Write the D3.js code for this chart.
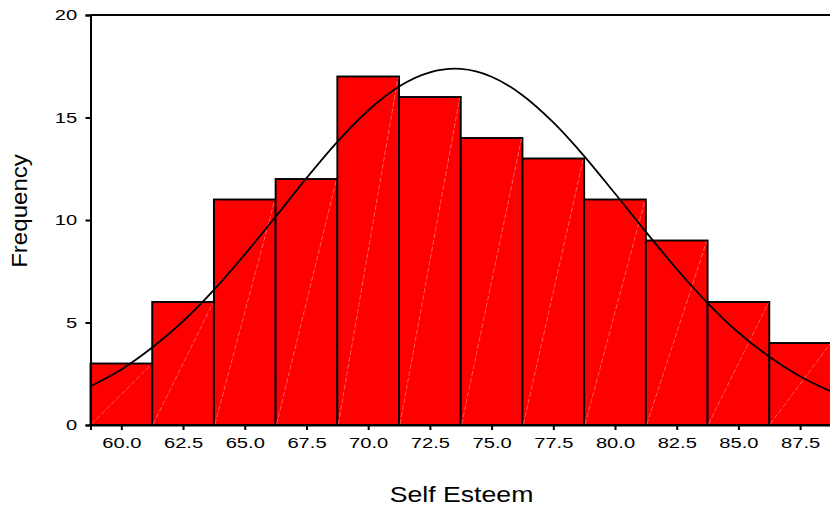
<!DOCTYPE html>
<html>
<head>
<meta charset="utf-8">
<script src="https://cdn.jsdelivr.net/npm/d3@7"></script>
<style>
    body { margin: 0; background: #fff; }
    svg { display: block; font-family: "Liberation Sans", Arial, sans-serif; }
</style>
</head>
<body>
<svg width="830" height="508"></svg>
<script>
// histogram bins (midpoints) and counts
const binMids = [60.0, 62.5, 65.0, 67.5, 70.0, 72.5, 75.0, 77.5, 80.0, 82.5, 85.0, 87.5];
const counts = [3, 6, 11, 12, 17, 16, 14, 13, 11, 9, 6, 4];
const binWidth = 2.5;

// fitted normal curve
const curveX = [58.75, 60.0, 61.25, 62.5, 63.75, 65.0, 66.25, 67.5, 68.75, 70.0, 71.25, 72.5, 73.75,
    75.0, 76.25, 77.5, 78.75, 80.0, 81.25, 82.5, 83.75, 85.0, 86.25, 87.5, 88.75];
const curveY = [1.89, 2.71, 3.78, 5.06, 6.59, 8.32, 10.16, 12.04, 13.81, 15.34, 16.51, 17.2, 17.37,
    16.99, 16.09, 14.76, 13.12, 11.29, 9.42, 7.61, 5.95, 4.51, 3.33, 2.37, 1.64];

const yTicks = [0, 5, 10, 15, 20];

const svg = d3.select("svg");

const x = d3.scaleLinear([58.75, 88.75], [90.5, 831]);
const y = d3.scaleLinear([0, 20], [425, 15]);

const bars = binMids.map((m, i) => ({ x0: m - binWidth / 2, x1: m + binWidth / 2, n: counts[i] }));

svg.append("g")
    .selectAll("rect")
    .data(bars)
    .enter()
    .append("rect")
    .attr("x", d => x(d.x0))
    .attr("y", d => y(d.n))
    .attr("width", d => x(d.x1) - x(d.x0))
    .attr("height", d => y(0) - y(d.n))
    .attr("fill", "#ff0000")
    .attr("stroke", "#000")
    .attr("stroke-width", 1.9);

// faint diagonal in each bar
svg.append("g")
    .selectAll("line")
    .data(bars)
    .enter()
    .append("line")
    .attr("x1", d => x(d.x0) + 1)
    .attr("y1", y(0) - 1)
    .attr("x2", d => x(d.x1) - 1)
    .attr("y2", d => y(d.n) + 1)
    .attr("stroke", "#ff9a9a")
    .attr("stroke-width", 0.6)
    .attr("stroke-dasharray", "5 2");

svg.append("clipPath")
    .attr("id", "plot")
    .append("rect")
    .attr("x", 90.5)
    .attr("y", 15)
    .attr("width", 740)
    .attr("height", 410);

const line = d3.line()
    .x(d => x(d[0]))
    .y(d => y(d[1]))
    .curve(d3.curveCardinal);

svg.append("path")
    .datum(curveX.map((v, i) => [v, curveY[i]]))
    .attr("clip-path", "url(#plot)")
    .attr("d", line)
    .attr("fill", "none")
    .attr("stroke", "#000")
    .attr("stroke-width", 1.8);

// frame top
svg.append("line")
    .attr("x1", x(58.75))
    .attr("x2", x(88.75))
    .attr("y1", y(20))
    .attr("y2", y(20))
    .attr("stroke", "#000")
    .attr("stroke-width", 2);

const yAxis = svg.append("g")
    .attr("transform", `translate(${x(58.75)},0)`)
    .call(d3.axisLeft(y)
        .tickValues(yTicks)
        .tickSize(5)
        .tickPadding(5.2)
        .tickFormat(d3.format("d"))
    );

const xAxis = svg.append("g")
    .attr("transform", `translate(0,${y(0)})`)
    .call(d3.axisBottom(x)
        .tickValues(binMids)
        .tickSize(5)
        .tickPadding(7.5)
        .tickFormat(d3.format(".1f"))
    );

svg.selectAll(".domain, .tick line")
    .attr("stroke", "#000")
    .attr("stroke-width", 2);

// the source stretches its glyphs sideways
svg.selectAll(".tick text")
    .attr("font-family", "Liberation Sans, Arial, sans-serif")
    .attr("font-size", 15.5)
    .attr("fill", "#000")
    .attr("transform", "scale(1.3,1)");

svg.append("text")
    .attr("transform", "translate(461.5,501.5) scale(1.24,1)")
    .attr("text-anchor", "middle")
    .attr("font-size", 21.5)
    .attr("fill", "#000")
    .text("Self Esteem");

svg.append("text")
    .attr("transform", "translate(26.5,211) rotate(-90) scale(1.12,1)")
    .attr("text-anchor", "middle")
    .attr("font-size", 21.5)
    .attr("fill", "#000")
    .text("Frequency");
</script>
</body>
</html>
